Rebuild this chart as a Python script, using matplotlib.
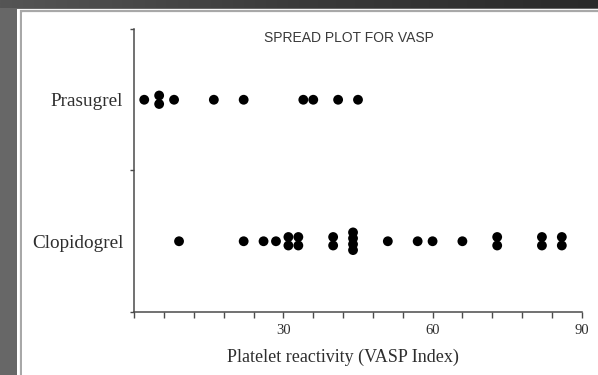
import numpy as np
import matplotlib
matplotlib.use("Agg")
import matplotlib.pyplot as plt
from matplotlib.patches import Rectangle
from matplotlib.ticker import FixedLocator, MultipleLocator

# VASP index readings per treatment group
categories = ["Clopidogrel", "Prasugrel"]
prasugrel_vasp = [2, 5, 5, 8, 16, 22, 34, 36, 41, 45]
clopidogrel_vasp = [9, 22, 26, 28.5, 31, 31, 33, 33, 40, 40, 44, 44, 44, 44,
                    51, 57, 60, 66, 73, 73, 82, 82, 86, 86]
x_tick_values = [30, 60, 90]
title_text = "SPREAD PLOT FOR VASP"
x_label_text = "Platelet reactivity (VASP Index)"

W, H = 598, 375
fig = plt.figure(figsize=(W / 100, H / 100), dpi=100)

# slide-style backdrop: dark gradient band on top, grey band on the left
bg = fig.add_axes([0, 0, 1, 1], zorder=-10)
bg.set_xlim(0, W)
bg.set_ylim(H, 0)
bg.axis("off")
bg.add_patch(Rectangle((0, 0), W, H, facecolor="#676767", edgecolor="none"))
grad = np.linspace(0, 1, 256)[None, :]
bg.imshow(grad, extent=(0, W, 8.5, 0), cmap=matplotlib.colors.LinearSegmentedColormap.from_list(
    "band", ["#555555", "#3a3a3a", "#2a2a2a"]), aspect="auto", zorder=1)
bg.add_patch(Rectangle((17, 8.5), W, H, facecolor="white", edgecolor="none", zorder=2))
bg.add_patch(Rectangle((20.5, 11), W, H, facecolor="white", edgecolor="#a8a8a8",
                       linewidth=1.6, zorder=3))
bg.add_patch(Rectangle((22, 12.5), W, H, facecolor="white", edgecolor="none", zorder=4))

# main plot area
x0, x1 = 134.3, 581.7
y_top, y_bot = 29, 312
ax = fig.add_axes([x0 / W, (H - y_bot) / H, (x1 - x0) / W, (y_bot - y_top) / H])
ax.set_facecolor("none")
ax.set_xlim(0, 90)
ax.set_ylim(0.5, 2.5)


def stacked(values, level):
    """Spread repeated values vertically around the group's row."""
    xs, ys = [], []
    vals = np.asarray(values, dtype=float)
    for v in np.unique(vals):
        n = int(np.sum(vals == v))
        step = min(0.06, 0.125 / (n - 1)) if n > 1 else 0.0
        offs = (np.arange(n) - (n - 1) / 2) * step
        xs.extend([v] * n)
        ys.extend(level + offs)
    return xs, ys


for level, vals in ((1, clopidogrel_vasp), (2, prasugrel_vasp)):
    xs, ys = stacked(vals, level)
    ax.scatter(xs, ys, s=50, color="black", edgecolors="none", zorder=3, clip_on=False)

axis_col = "#4a4a4a"
for side in ("top", "right"):
    ax.spines[side].set_visible(False)
for side in ("left", "bottom"):
    ax.spines[side].set_color(axis_col)
    ax.spines[side].set_linewidth(1.1)

serif = ["Liberation Serif", "DejaVu Serif"]
txt_col = "#2e2e2e"

ax.xaxis.set_major_locator(FixedLocator(x_tick_values))
ax.xaxis.set_minor_locator(MultipleLocator(6))
ax.set_xticklabels([str(v) for v in x_tick_values], fontfamily=serif,
                   fontsize=10.5, color=txt_col)
ax.tick_params(axis="x", which="both", direction="out", length=4, width=1,
               color=axis_col, pad=5)

ax.yaxis.set_major_locator(FixedLocator([1, 2]))
ax.yaxis.set_minor_locator(FixedLocator([0.5, 1.5, 2.5]))
ax.set_yticklabels(categories, fontfamily=serif, fontsize=13.8, color=txt_col)
ax.tick_params(axis="y", which="major", length=0, pad=8)
ax.tick_params(axis="y", which="minor", direction="out", length=3, width=1,
               color=axis_col)

fig.text(348.5 / W, 1 - 38.5 / H, title_text, ha="center", va="center",
         fontfamily=["Liberation Sans", "DejaVu Sans"], fontsize=10, color="#3a3a3a")
fig.text(343.3 / W, 1 - 357 / H, x_label_text, ha="center", va="center",
         fontfamily=serif, fontsize=13, color=txt_col)

fig.savefig("out.png", dpi=100)
